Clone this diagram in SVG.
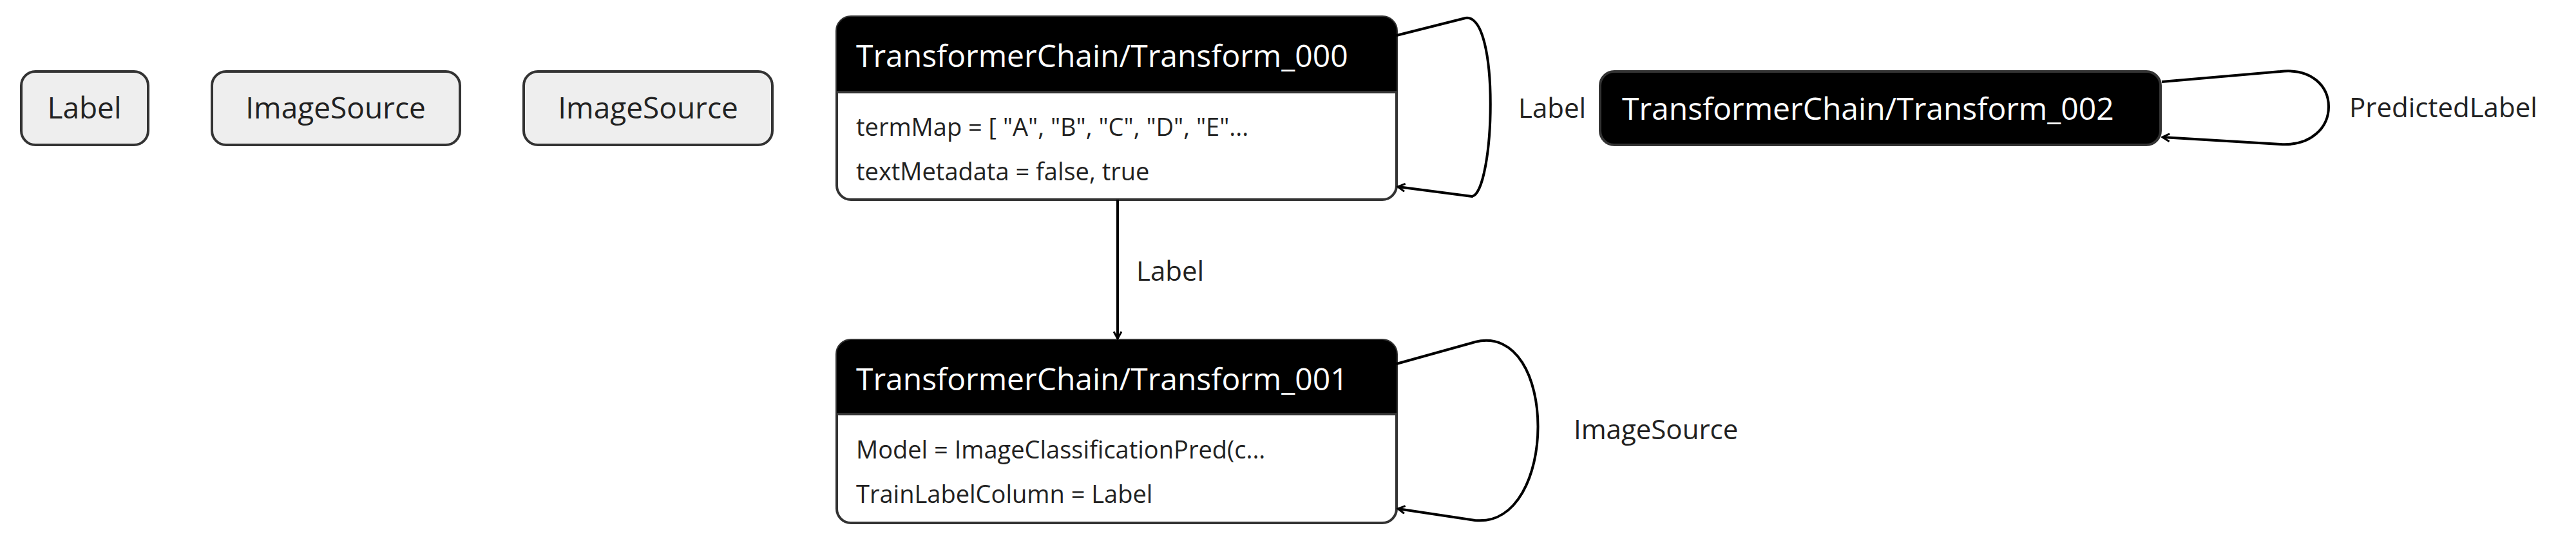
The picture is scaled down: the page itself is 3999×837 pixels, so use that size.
<svg xmlns="http://www.w3.org/2000/svg" width="3999" height="837" viewBox="0 0 3999 837">
<style>
text{font-family:"Open Sans","Liberation Sans",sans-serif;}
.src rect{fill:#eeeeee;stroke:#333;stroke-width:4}
.src text{font-size:46px;fill:#222;text-anchor:middle}
.hd{fill:#000}
.body{fill:#fff;stroke:#333;stroke-width:4}
.t{fill:#fff;font-size:48px}
.p{fill:#222;font-size:38px}
.e{fill:none;stroke:#000;stroke-width:4}
.el{font-size:42px;fill:#222}
</style>
<defs><marker id="a" markerWidth="14" markerHeight="14" refX="12" refY="7" orient="auto" markerUnits="userSpaceOnUse"><path d="M1,1 L12,7 L1,13" fill="none" stroke="#000" stroke-width="3"/></marker></defs>
<g id="n0" class="src"><rect x="33" y="111" width="197" height="114" rx="22"/><text x="131" y="184">Label</text></g>
<g id="n1" class="src"><rect x="329" y="111" width="385" height="114" rx="22"/><text x="521" y="184">ImageSource</text></g>
<g id="n2" class="src"><rect x="813" y="111" width="386" height="114" rx="22"/><text x="1006" y="184">ImageSource</text></g>
<g id="n3"><rect class="body" x="1299" y="26" width="869" height="284" rx="22"/><path class="hd" d="M1299,143 V48 a22,22 0 0 1 22,-22 H2146 a22,22 0 0 1 22,22 V143 Z"/><line x1="1299" y1="143" x2="2168" y2="143" stroke="#333" stroke-width="4"/><text class="t" x="1329" y="104">TransformerChain/Transform_000</text><text class="p" x="1329" y="211">termMap = [ "A", "B", "C", "D", "E"...</text><text class="p" x="1329" y="280">textMetadata = false, true</text></g>
<g id="n4"><rect class="body" x="1299" y="528" width="869" height="284" rx="22"/><path class="hd" d="M1299,643 V550 a22,22 0 0 1 22,-22 H2146 a22,22 0 0 1 22,22 V643 Z"/><line x1="1299" y1="643" x2="2168" y2="643" stroke="#333" stroke-width="4"/><text class="t" x="1329" y="606">TransformerChain/Transform_001</text><text class="p" x="1329" y="712">Model = ImageClassificationPred(c...</text><text class="p" x="1329" y="781">TrainLabelColumn = Label</text></g>
<g id="n5"><rect x="2484" y="111" width="870" height="114" rx="22" fill="#000" stroke="#333" stroke-width="4"/><text class="t" x="2518" y="186">TransformerChain/Transform_002</text></g>
<g id="edges">
<line class="e" x1="1735" y1="310" x2="1735" y2="526" marker-end="url(#a)"/>
<text class="el" x="1764" y="436">Label</text>
<path class="e" d="M2168,55 L2275,28 C2330,20 2320,300 2285,305 L2170,290" marker-end="url(#a)"/>
<text class="el" x="2357" y="183">Label</text>
<path class="e" d="M2168,565 L2290,531 C2420,500 2420,820 2290,808 L2170,790" marker-end="url(#a)"/>
<text class="el" x="2443" y="682">ImageSource</text>
<path class="e" d="M3356,127 L3540,111 C3640,100 3640,230 3540,224 L3357,213" marker-end="url(#a)"/>
<text class="el" x="3647" y="182">PredictedLabel</text>
</g>
</svg>
